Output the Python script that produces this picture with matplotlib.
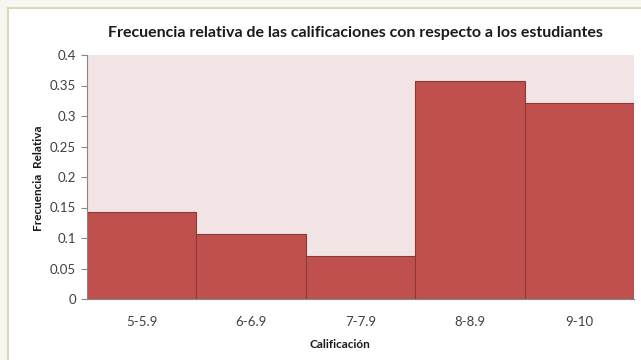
import matplotlib.pyplot as plt
from matplotlib.patches import Rectangle

categories = ["5-5.9", "6-6.9", "7-7.9", "8-8.9", "9-10"]
rel_freq = [0.143, 0.107, 0.071, 0.357, 0.321]
y_ticks = [0, 0.05, 0.1, 0.15, 0.2, 0.25, 0.3, 0.35, 0.4]
y_tick_labels = ["0", "0.05", "0.1", "0.15", "0.2", "0.25", "0.3", "0.35", "0.4"]

plt.rcParams['font.family'] = ['Lato', 'DejaVu Sans']

fig = plt.figure(figsize=(6.41, 3.6), dpi=100)
fig.patch.set_facecolor('#f7f6f0')

# chart frame, drawn behind the axes
W, H = 641, 360
frame = Rectangle((8 / W, -0.05), 1.1, 1 - 8 / H + 0.05, transform=fig.transFigure,
                  facecolor='white', edgecolor='#ddd6b8', linewidth=1.5, zorder=-10)
fig.patches.append(frame)

ax = fig.add_axes([87 / W, 1 - 299 / H, (634 - 87) / W, (299 - 55) / H])
ax.set_facecolor('#f2e4e4')

x = list(range(len(categories)))
ax.bar(x, rel_freq, width=1.0, color='#c0504d', edgecolor='#8c3836', linewidth=0.8)

ax.set_xlim(-0.5, len(categories) - 0.5)
ax.set_ylim(0, 0.4)
ax.set_yticks(y_ticks)
ax.set_yticklabels(y_tick_labels)
ax.set_xticks(x)
ax.set_xticklabels(categories)

ax.tick_params(axis='y', length=4, color='#888888', labelsize=9.5, labelcolor='#404040', pad=4)
ax.tick_params(axis='x', length=0, labelsize=9.5, labelcolor='#404040', pad=12)

for side in ['top', 'right']:
    ax.spines[side].set_visible(False)
for side in ['left', 'bottom']:
    ax.spines[side].set_color('#888888')
    ax.spines[side].set_linewidth(0.8)

fig.text(355 / W, 1 - 33 / H, "Frecuencia relativa de las calificaciones con respecto a los estudiantes",
         ha='center', va='center', fontsize=11.5, fontweight='bold', color='#1a1a1a')
fig.text(38 / W, 1 - 178 / H, "Frecuencia  Relativa", rotation=90, ha='center', va='center',
         fontsize=8.5, fontweight='bold', color='#1a1a1a')
fig.text(340 / W, 1 - 345 / H, "Calificación", ha='center', va='center',
         fontsize=8.5, fontweight='bold', color='#1a1a1a')

fig.savefig('out.png', dpi=100, facecolor=fig.get_facecolor())
